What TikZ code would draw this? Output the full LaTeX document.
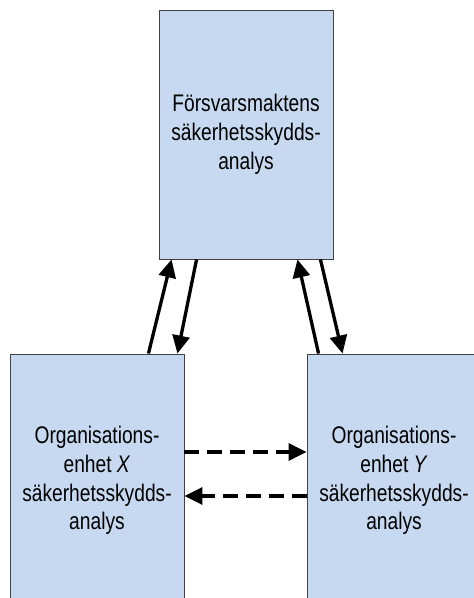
\documentclass[tikz,border=0pt]{standalone}
\usepackage{fontspec}
\setmainfont{Liberation Sans}
\usetikzlibrary{arrows.meta, positioning}
\definecolor{boxblue}{HTML}{C6D9F0}
\definecolor{boxline}{HTML}{404040}
\newcommand{\tallText}[1]{\scalebox{0.96}[1.2]{\begin{tabular}{@{}c@{}}#1\end{tabular}}}

\begin{document}
\begin{tikzpicture}[x=1pt, y=1pt,
                    analysbox/.style={draw=boxline, line width=0.9pt, fill=boxblue,
                        minimum width=174pt, inner sep=0pt,
                        font=\fontsize{20}{24}\selectfont},
                    flow/.style={line width=3.3pt, -{Triangle[length=18pt, width=17pt]}},
                    flowdash/.style={flow, dash pattern=on 15pt off 8pt}]
                        \useasboundingbox (0,0) rectangle (474,598);
                        \clip (0,0) rectangle (474,598);

                        % Boxes
                        \node[analysbox, minimum height=249pt] (fm) at (246,463.5)
                            {\tallText{Försvarsmaktens\\säkerhetsskydds-\\analys}};
                        \node[analysbox, minimum height=254pt] (orgx) at (97,117)
                            {\tallText{Organisations-\\enhet \textit{X}\\säkerhetsskydds-\\analys}};
                        \node[analysbox, minimum height=254pt] (orgy) at (394,117)
                            {\tallText{Organisations-\\enhet \textit{Y}\\säkerhetsskydds-\\analys}};

                        % Up and down between the levels
                        \draw[flow] ([xshift=-36pt]orgx.north east) -- ([xshift=13pt]fm.south west);
                        \draw[flow] ([xshift=38pt]fm.south west) -- ([xshift=-7pt]orgx.north east);
                        \draw[flow] ([xshift=12pt]orgy.north west) -- ([xshift=-36pt]fm.south east);
                        \draw[flow] ([xshift=-13pt]fm.south east) -- ([xshift=36pt]orgy.north west);

                        % Between the units
                        \draw[flowdash] ([yshift=29pt]orgx.east) -- ([yshift=29pt]orgy.west);
                        \draw[flowdash] ([yshift=-15pt]orgy.west) -- ([yshift=-15pt]orgx.east);
                    \end{tikzpicture}
\end{document}
